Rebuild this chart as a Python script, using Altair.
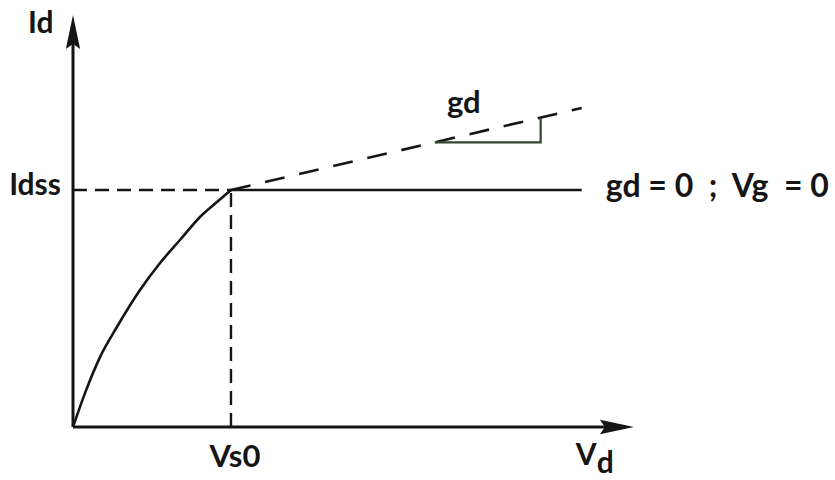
import altair as alt
import pandas as pd

# Drain characteristic Id(Vd), normalised so that Vs0 = 1 and Idss = 1
vd_curve = [0.0, 0.076, 0.171, 0.278, 0.424, 0.551, 0.677, 0.804, 0.911, 1.0]
id_curve = [0.0, 0.143, 0.295, 0.422, 0.578, 0.692, 0.789, 0.886, 0.949, 1.0]

vs0 = 1.0            # saturation (knee) voltage
idss = 1.0           # saturation current
vd_end = 3.22        # right end of the saturation lines
gd_slope = 0.156     # slope of the dashed line (finite output conductance gd)
gd_leg = [2.29, 2.96]  # horizontal leg of the slope triangle
vd_axis_end = 3.55
id_axis_end = 1.738

X_DOMAIN = [-0.462, 4.823]
Y_DOMAIN = [-0.2236, 1.8017]
INK = "#151515"
FONT = "Lato"
NBSP = "\u00a0"

xs = alt.Scale(domain=X_DOMAIN, nice=False, zero=False)
ys = alt.Scale(domain=Y_DOMAIN, nice=False, zero=False)


def enc(chart, **kw):
    return chart.encode(
        x=alt.X("x:Q", scale=xs, axis=None),
        y=alt.Y("y:Q", scale=ys, axis=None),
        **kw,
    )


def segs(rows):
    return pd.DataFrame(rows, columns=["seg", "order", "x", "y"])


# axes
axes_df = segs([
    ("vd", 0, 0, 0), ("vd", 1, vd_axis_end - 0.05, 0),
    ("id", 0, 0, 0), ("id", 1, 0, id_axis_end - 0.05),
])
axes = enc(alt.Chart(axes_df).mark_line(color=INK, strokeWidth=3),
           detail="seg:N", order="order:Q")

arrow_right = enc(
    alt.Chart(pd.DataFrame({"x": [vd_axis_end], "y": [0]})).mark_point(
        shape="M 0 0 L -2 -0.42 L -1.7 0 L -2 0.42 Z",
        size=1156, filled=True, color=INK, opacity=1,
    )
)
arrow_up = enc(
    alt.Chart(pd.DataFrame({"x": [0], "y": [id_axis_end]})).mark_point(
        shape="M 0 0 L -0.42 2 L 0 1.7 L 0.42 2 Z",
        size=1156, filled=True, color=INK, opacity=1,
    )
)

# curve below saturation
curve_df = pd.DataFrame({"x": vd_curve, "y": id_curve, "order": range(len(vd_curve))})
curve = enc(alt.Chart(curve_df).mark_line(color=INK, strokeWidth=2.6, interpolate="monotone"),
            order="order:Q")

# ideal saturation: gd = 0
flat_df = segs([("flat", 0, vs0, idss), ("flat", 1, vd_end, idss)])
flat = enc(alt.Chart(flat_df).mark_line(color=INK, strokeWidth=2.6), order="order:Q")

# guide lines to Idss and Vs0
guides_df = segs([
    ("h", 0, 0, idss), ("h", 1, vs0, idss),
    ("v", 0, vs0, 0), ("v", 1, vs0, idss),
])
guides = enc(alt.Chart(guides_df).mark_line(color=INK, strokeWidth=2.4, strokeDash=[14, 8]),
             detail="seg:N", order="order:Q")

# real saturation with finite gd
slope_df = segs([
    ("s", 0, vs0, idss),
    ("s", 1, vd_end, idss + gd_slope * (vd_end - vs0)),
])
slope = enc(alt.Chart(slope_df).mark_line(color=INK, strokeWidth=2.6, strokeDash=[20, 15]),
            order="order:Q")

# slope triangle
y_left = idss + gd_slope * (gd_leg[0] - vs0)
y_right = idss + gd_slope * (gd_leg[1] - vs0)
tri_df = segs([
    ("t", 0, gd_leg[0], y_left),
    ("t", 1, gd_leg[1], y_left),
    ("t", 2, gd_leg[1], y_right),
])
tri = enc(alt.Chart(tri_df).mark_line(color="#34452f", strokeWidth=2.2), order="order:Q")


def label(text, x, y, dx, dy, align="left", size=30):
    return enc(
        alt.Chart(pd.DataFrame({"x": [x], "y": [y], "t": [text]})).mark_text(
            font=FONT, fontSize=size, fontWeight="bold", color=INK,
            align=align, baseline="alphabetic", dx=dx, dy=dy,
        ),
        text="t:N",
    )


labels = [
    label("Id", 0, id_axis_end, -45, 18),
    label("Idss", 0, idss, -12, 5, align="right"),
    label("Vs0", vs0, 0, 4, 40, align="center", size=31),
    label("V", vd_axis_end, 0, -58, 38),
    label("d", vd_axis_end, 0, -37, 46),
    label("gd", gd_leg[0], y_left, 29, -29, align="center", size=31),
    label(f"gd = 0{NBSP} ;{NBSP} Vg{NBSP} = 0", vd_end, idss, 24, 7, size=32),
]

chart = alt.layer(
    guides, slope, tri, flat, curve, axes, arrow_right, arrow_up, *labels
).properties(
    width=835, height=480, padding=0,
    autosize=alt.AutoSizeParams(type="none"),
    background="white",
).configure_view(stroke=None)

chart.save("out.html", embed_options={"renderer": "svg", "actions": False})
